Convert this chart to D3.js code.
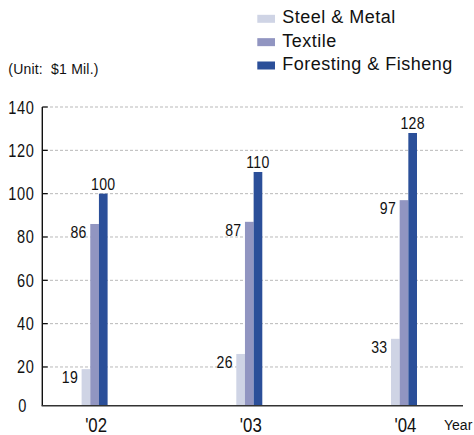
<!DOCTYPE html>
<html>
<head>
<meta charset="utf-8">
<script src="https://cdn.jsdelivr.net/npm/d3@7"></script>
<style>
  html, body { margin: 0; padding: 0; background: #fff; }
  svg { display: block; }
  .narrow { font-family: "Liberation Sans", Arial, sans-serif; fill: #111; }
  .hum { font-family: "Liberation Sans", Arial, sans-serif; fill: #111; white-space: pre; }
</style>
</head>
<body>
<svg id="chart" width="474" height="435"></svg>
<script>
const years = ["'02", "'03", "'04"];
const seriesNames = ["Steel & Metal", "Textile", "Foresting & Fisheng"];
const steelMetal = [19, 26, 33];
const textile = [86, 87, 97];
const forestingFisheng = [100, 110, 128];
const yTicks = [0, 20, 40, 60, 80, 100, 120, 140];
const colors = ["#cfd4e5", "#9195c1", "#2b4f99"];
const unitLabel = "(Unit:  $1 Mil.)";
const xAxisTitle = "Year";

const seriesValues = [steelMetal, textile, forestingFisheng];
const SQ = 0.82; // horizontal condensing for the narrow face

const svg = d3.select("#chart");

const y = d3.scaleLinear().domain([0, 140]).range([410.3, 107]);
const baseY = 405.7;
const axisX = 42.3;
const rightX = 463;

const x = d3.scalePoint().domain(years).range([94.6, 404]);
const inner = d3.scaleBand().domain(seriesNames).range([-13, 13]).paddingInner(0);

// gridlines
svg.append("g").selectAll("line")
  .data(yTicks.filter(v => v > 0))
  .join("line")
  .attr("x1", 50).attr("x2", rightX)
  .attr("y1", d => y(d)).attr("y2", d => y(d))
  .attr("stroke", "#b9b9b9").attr("stroke-width", 1)
  .attr("stroke-dasharray", "3,2");

// y ticks
svg.append("g").selectAll("line")
  .data(yTicks.filter(v => v > 0))
  .join("line")
  .attr("x1", axisX).attr("x2", axisX + 5.5)
  .attr("y1", d => y(d)).attr("y2", d => y(d))
  .attr("stroke", "#111").attr("stroke-width", 1.3);

// y tick labels
svg.append("g").selectAll("text")
  .data(yTicks)
  .join("text")
  .attr("class", "narrow")
  .attr("transform", d => `translate(${d === 0 ? 27 : 34.5},${(d === 0 ? baseY : y(d)) + 6.5}) scale(${SQ},1)`)
  .attr("text-anchor", "end")
  .attr("font-size", 17.8)
  .attr("letter-spacing", 0.8)
  .text(d => d);

// bars
const flat = [];
years.forEach((yr, i) => {
  seriesNames.forEach((s, j) => {
    flat.push({ yr, s, j, v: seriesValues[j][i] });
  });
});

svg.append("g").selectAll("rect")
  .data(flat)
  .join("rect")
  .attr("x", d => x(d.yr) + inner(d.s))
  .attr("width", inner.bandwidth())
  .attr("y", d => y(d.v))
  .attr("height", d => baseY - y(d.v))
  .attr("fill", d => colors[d.j]);

// value labels
svg.append("g").selectAll("text")
  .data(flat)
  .join("text")
  .attr("class", "narrow")
  .attr("font-size", 17.2)
  .attr("letter-spacing", 0.4)
  .attr("text-anchor", d => d.j === 2 ? "middle" : "end")
  .attr("transform", d => {
    const tx = d.j === 2 ? x(d.yr) + inner(d.s) + inner.bandwidth() / 2 : x(d.yr) + inner(d.s) - 3.5;
    const ty = d.j === 2 ? y(d.v) - 3.8 : y(d.v) + 14;
    return `translate(${tx},${ty}) scale(${SQ},1)`;
  })
  .text(d => d.v);

// axes lines
svg.append("line")
  .attr("x1", axisX).attr("x2", axisX)
  .attr("y1", y(140)).attr("y2", baseY)
  .attr("stroke", "#111").attr("stroke-width", 1.4);
svg.append("line")
  .attr("x1", axisX - 0.7).attr("x2", rightX)
  .attr("y1", baseY).attr("y2", baseY)
  .attr("stroke", "#333").attr("stroke-width", 1.6);

// x labels
svg.append("g").selectAll("text")
  .data(years)
  .join("text")
  .attr("class", "narrow")
  .attr("font-size", 20.5)
  .attr("text-anchor", "middle")
  .attr("transform", d => `translate(${x(d) + 1.5},431.5) scale(${SQ},1)`)
  .text(d => d);

svg.append("text")
  .attr("class", "hum")
  .attr("font-size", 14)
  .attr("x", 444).attr("y", 430)
  .text(xAxisTitle);

// unit
svg.append("text")
  .attr("class", "hum")
  .attr("font-size", 14)
  .attr("letter-spacing", 0.2)
  .attr("x", 8.3).attr("y", 73.5)
  .text(unitLabel);

// legend
const lg = svg.append("g").selectAll("g")
  .data(seriesNames)
  .join("g")
  .attr("transform", (d, i) => `translate(257.3, ${23.3 + i * 23.35})`);
lg.append("rect")
  .attr("x", 0).attr("y", -8.5)
  .attr("width", 17.7).attr("height", 8)
  .attr("fill", (d, i) => colors[i]);
lg.append("text")
  .attr("class", "hum")
  .attr("x", 25).attr("y", 0)
  .attr("font-size", 18)
  .attr("letter-spacing", 0.5)
  .text(d => d);
</script>
</body>
</html>
